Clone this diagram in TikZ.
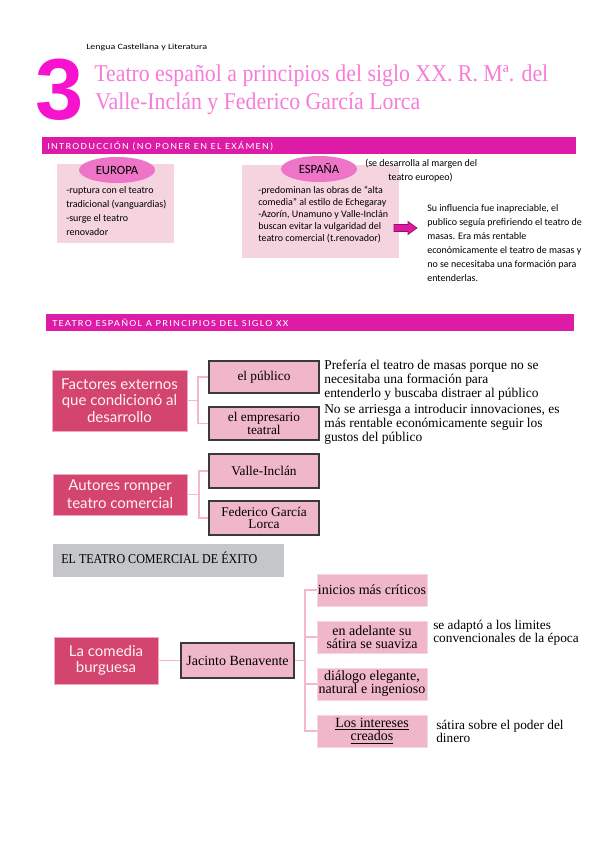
\documentclass[tikz,border=0pt]{standalone}
\usepackage{fontspec}
\usepackage{graphicx}
\setmainfont{Liberation Serif}
\newfontfamily\calib{Carlito}
\newfontfamily\calibsp[LetterSpace=12]{Carlito}
\newfontfamily\latof{Lato}
\newfontfamily\arialf{Liberation Sans}
\usetikzlibrary{shapes.geometric}
\definecolor{cmag}{HTML}{F712CF}
\definecolor{ctitle}{HTML}{F77CD9}
\definecolor{cbar}{HTML}{DD1BA7}
\definecolor{clight}{HTML}{F5D3DF}
\definecolor{cell}{HTML}{EE74C8}
\definecolor{carrow}{HTML}{E0189F}
\definecolor{carrowline}{HTML}{8E1468}
\definecolor{crose}{HTML}{D3446F}
\definecolor{croseedge}{HTML}{F2A9BF}
\definecolor{cpink}{HTML}{F0B6C9}
\definecolor{cpinkedge}{HTML}{F8D6E1}
\definecolor{cedge}{HTML}{3A3A3A}
\definecolor{cconn}{HTML}{F5B8CB}
\definecolor{cgray}{HTML}{C5C6CA}
\definecolor{cwhite}{HTML}{FFF2F6}
\newcommand\fitw[2]{\resizebox{#1}{\height}{#2}}
\tikzset{
  sz/.style 2 args={minimum width=#1*0.75pt, minimum height=#2*0.75pt},
  barbox/.style={fill=cbar, draw=none, inner sep=0},
  hdr/.style={anchor=west, inner sep=0, text=white, font=\calibsp\fontsize{7pt}{7pt}\selectfont},
  lightbox/.style={fill=clight, draw=none, inner sep=0},
  ell/.style={ellipse, fill=cell, draw=none, inner sep=0, font=\calib\fontsize{9.5pt}{9.5pt}\selectfont},
  smalltxt/.style={anchor=west, inner sep=0, align=left, font=\calib\fontsize{7.5pt}{10.5pt}\selectfont},
  smalltxtb/.style={anchor=west, inner sep=0, align=left, font=\calib\fontsize{7.5pt}{9pt}\selectfont},
  rosebox/.style={fill=crose, draw=croseedge, line width=0.6pt, inner sep=0, align=center, text=cwhite},
  pbox/.style={fill=cpink, draw=cedge, line width=1.1pt, inner sep=0, align=center, font=\fontsize{10pt}{9.5pt}\selectfont},
  qbox/.style={fill=cpink, draw=cpinkedge, line width=0.6pt, inner sep=0, align=center, font=\fontsize{10.5pt}{9.8pt}\selectfont},
  serift/.style={anchor=west, inner sep=0, align=left, font=\fontsize{10.1pt}{10.5pt}\selectfont},
  connline/.style={draw=cconn, line width=1.1pt},
}
\begin{document}
\begin{tikzpicture}[x=0.75pt,y=-0.75pt]
\useasboundingbox (0,0) rectangle (599,848);
\fill[white] (0,0) rectangle (599,848);

% header
\node[anchor=west, inner sep=0, font=\calib\fontsize{6pt}{6pt}\selectfont] (lengua) at (86,47) {\fitw{90.75pt}{Lengua Castellana y Literatura}};
\node[anchor=base west, inner sep=0, text=cmag, font=\arialf\bfseries\fontsize{65pt}{65pt}\selectfont] (num) at (35,120) {3};
\node[anchor=base west, inner sep=0, text=ctitle, font=\fontsize{18pt}{18pt}\selectfont] (title1) at (94,82) {\fitw{340.5pt}{Teatro español a principios del siglo XX. R. Mª. del}};
\node[anchor=base west, inner sep=0, text=ctitle, font=\fontsize{18pt}{18pt}\selectfont] (title2) at (95,110) {\fitw{243.75pt}{Valle-Inclán y Federico García Lorca}};

% intro bar
\node[barbox, sz={534}{17}, anchor=north west] (bar1) at (42,137) {};
\node[hdr] (intro) at (47,146) {\fitw{169.5pt}{INTRODUCCIÓN (NO PONER EN EL EXÁMEN)}};

% Europa
\node[lightbox, sz={117}{79}, anchor=north west] (eubox) at (57,164) {};
\node[ell, sz={76}{26}] (euell) at (117,170) {EUROPA};
\node[smalltxt] (eutxt) at (66,211.5) {-ruptura con el teatro\\tradicional (vanguardias)\\-surge el teatro\\renovador};

% Espana
\node[lightbox, sz={157}{93}, anchor=north west] (esbox) at (242,165) {};
\node[ell, sz={76}{26}] (esell) at (319,169) {ESPAÑA};
\node[smalltxtb] (estxt) at (258,215) {-predominan las obras de “alta\\comedia” al estilo de Echegaray\\-Azorín, Unamuno y Valle-Inclán\\buscan evitar la vulgaridad del\\teatro comercial (t.renovador)};
\node[smalltxt] (marg1) at (365,164) {(se desarrolla al margen del};
\node[smalltxt] (marg2) at (388,178) {teatro europeo)};
\filldraw[fill=carrow, draw=carrowline, line width=0.5pt] (394,224.5) -- (408,224.5) -- (408,221.5) -- (417,228) -- (408,234.5) -- (408,231.5) -- (394,231.5) -- cycle;
\node[smalltxt] (infl) at (427,243) {Su influencia fue inapreciable, el\\publico seguía prefiriendo el teatro de\\masas. Era más rentable\\económicamente el teatro de masas y\\no se necesitaba una formación para\\entenderlas.};

% second bar
\node[barbox, sz={528}{17}, anchor=north west] (bar2) at (46,314) {};
\node[hdr] (teatro) at (52,323) {\fitw{177pt}{TEATRO ESPAÑOL A PRINCIPIOS DEL SIGLO XX}};

% Factores
\node[rosebox, sz={135}{61}, font=\latof\fontsize{11.25pt}{12.4pt}\selectfont] (fact) at (119.5,400.5) {Factores externos\\que condicionó al\\desarrollo};
\node[pbox, sz={110}{32}] (pub) at (264,377) {el público};
\node[pbox, sz={110}{33}] (emp) at (264,423.5) {el empresario\\teatral};
\coordinate (j1) at (198,400.5);
\draw[connline] (fact.east) -- (j1);
\draw[connline] (pub.west) -| (j1) |- (emp.west);
\node[serift] (pubtxt) at (324,380) {Prefería el teatro de masas porque no se\\necesitaba una formación para\\entenderlo y buscaba distraer al público};
\node[serift] (emptxt) at (324,424) {No se arriesga a introducir innovaciones, es\\más rentable económicamente seguir los\\gustos del público};

% Autores
\node[rosebox, sz={134}{41}, font=\latof\fontsize{11.25pt}{13.5pt}\selectfont] (aut) at (120,494.5) {Autores romper\\teatro comercial};
\node[pbox, sz={110}{34}] (valle) at (264,471) {Valle-Inclán};
\node[pbox, sz={110}{34}] (fed) at (264,518) {Federico García\\Lorca};
\coordinate (j2) at (199,494.5);
\draw[connline] (aut.east) -- (j2);
\draw[connline] (valle.west) -| (j2) |- (fed.west);

% gray title
\node[fill=cgray, inner sep=0, sz={231}{33}, anchor=north west] (gray) at (53,544) {};
\node[serift] (graytxt) at (61,558) {\fitw{147pt}{EL TEATRO COMERCIAL DE ÉXITO}};

% comedia
\node[rosebox, sz={104}{47}, font=\latof\fontsize{11.25pt}{12pt}\selectfont] (com) at (106,660.5) {La comedia\\burguesa};
\node[pbox, sz={113}{35}, font=\fontsize{10.5pt}{10.5pt}\selectfont] (jac) at (237.5,660.5) {Jacinto Benavente};
\draw[connline] (com.east) -- (jac.west);
\node[qbox, sz={110}{32}] (b1) at (372,590) {inicios más críticos};
\node[qbox, sz={110}{32}] (b2) at (372,637) {en adelante su\\sátira se suaviza};
\node[qbox, sz={110}{32}] (b3) at (372,684) {diálogo elegante,\\natural e ingenioso};
\node[qbox, sz={110}{32}] (b4) at (372,731) {\underline{Los intereses}\\\underline{creados}};
\coordinate (j3) at (305,660.5);
\draw[connline] (jac.east) -- (j3);
\draw[connline] (b1.west) -| (j3) |- (b4.west);
\draw[connline] (b2.west) -- (b2.west -| j3);
\draw[connline] (b3.west) -- (b3.west -| j3);
\node[serift, font=\fontsize{10pt}{9.5pt}\selectfont] (b2txt) at (433,633) {se adaptó a los limites\\convencionales de la época};
\node[serift, font=\fontsize{10pt}{9.75pt}\selectfont] (b4txt) at (436,731.5) {sátira sobre el poder del\\dinero};
\end{tikzpicture}
\end{document}
